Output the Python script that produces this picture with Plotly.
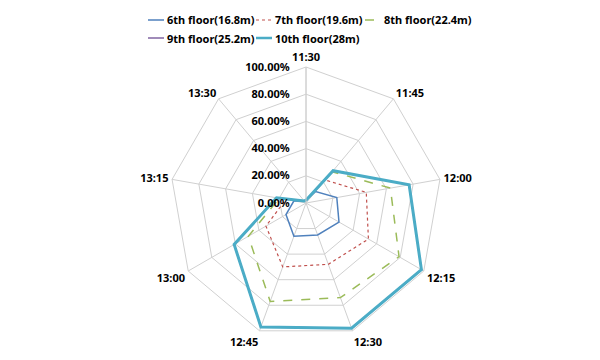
import plotly.graph_objects as go

categories = ["11:30", "11:45", "12:00", "12:15", "12:30", "12:45", "13:00", "13:15", "13:30"]
floor6 = [0.02, 0.11, 0.23, 0.28, 0.25, 0.26, 0.17, 0.09, 0.02]
floor7 = [0.02, 0.22, 0.45, 0.53, 0.48, 0.50, 0.34, 0.15, 0.02]
floor8 = [0.02, 0.30, 0.63, 0.79, 0.74, 0.77, 0.49, 0.20, 0.02]
floor9 = [0.02, 0.31, 0.77, 0.98, 0.98, 0.97, 0.61, 0.22, 0.02]
floor10 = [0.02, 0.31, 0.77, 0.98, 0.98, 0.97, 0.61, 0.22, 0.02]
names = ["6th floor(16.8m)", "7th floor(19.6m)", "8th floor(22.4m)", "9th floor(25.2m)", "10th floor(28m)"]
radial_ticks = [0, 0.2, 0.4, 0.6, 0.8, 1.0]

series = [floor6, floor7, floor8, floor9, floor10]
styles = [
    dict(color="#4F81BD", width=1.5, dash="solid"),
    dict(color="#C0504D", width=1.2, dash="dot"),
    dict(color="#9BBB59", width=1.5, dash="dash"),
    dict(color="#8064A2", width=1.5, dash="solid"),
    dict(color="#4BACC6", width=3, dash="solid"),
]

W, H = 600, 360
CX, CY, R = 298, 195, 136
font = dict(family="Noto Sans", size=11, color="#000000", weight="bold")

fig = go.Figure()
for vals, name, st in zip(series, names, styles):
    fig.add_trace(go.Scatterpolar(
        r=vals + vals[:1],
        theta=categories + categories[:1],
        mode="lines",
        name=name,
        line=st,
        showlegend=False,
    ))

# legend drawn as key lines + text (two rows, left aligned)
legend_pos = [(140, 12), (248, 12), (357, 12), (140, 30), (248, 30)]
shapes, annotations = [], []
for (lx, ly), name, st in zip(legend_pos, names, styles):
    shapes.append(dict(type="line", xref="paper", yref="paper",
                       x0=lx / W, x1=(lx + 16) / W, y0=1 - ly / H, y1=1 - ly / H,
                       line=dict(color=st["color"], width=min(st["width"], 2.5), dash=st["dash"])))
    annotations.append(dict(xref="paper", yref="paper", x=(lx + 18) / W, y=1 - ly / H,
                            xanchor="left", yanchor="middle", text=name, showarrow=False,
                            font=font, borderpad=0))

fig.update_layout(
    width=W, height=H,
    margin=dict(l=0, r=0, t=0, b=0),
    paper_bgcolor="white",
    font=font,
    showlegend=False,
    shapes=shapes,
    annotations=annotations,
    polar=dict(
        domain=dict(x=[(CX - R) / W, (CX + R) / W], y=[1 - (CY + R) / H, 1 - (CY - R) / H]),
        gridshape="linear",
        bgcolor="white",
        angularaxis=dict(
            direction="clockwise", rotation=90, type="category",
            categoryarray=categories, categoryorder="array",
            showline=True, linecolor="#D0D0D0", linewidth=1,
            gridcolor="#D0D0D0", gridwidth=1,
            ticks="outside", ticklen=1, tickcolor="rgba(0,0,0,0)",
            tickfont=font,
        ),
        radialaxis=dict(
            range=[0, 1], tickvals=radial_ticks, tickformat=".2%",
            angle=90, tickangle=90, side="counterclockwise",
            showline=True, linecolor="#D0D0D0", gridcolor="#D0D0D0",
            ticks="outside", ticklen=12, tickcolor="rgba(0,0,0,0)", tickfont=font,
        ),
    ),
)

fig.write_html("out.html")
